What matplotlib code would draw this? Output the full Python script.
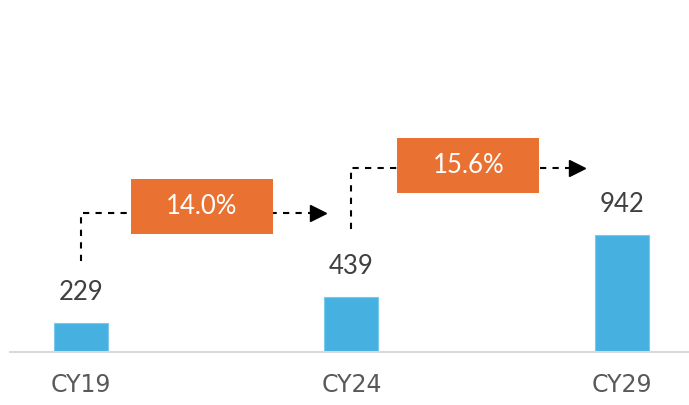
import matplotlib.pyplot as plt
from matplotlib.patches import Rectangle

years = ['CY19', 'CY24', 'CY29']
values = [229, 439, 942]
cagr_labels = ['14.0%', '15.6%']

# layout of the growth arrows (data units)
arrow_start = [0, 1]
arrow_end = [0.878, 1.835]
arrow_low = [731, 988]
arrow_high = [1116, 1478]
box_cx = [0.447, 1.432]
box_cy = [1165, 1494]
box_w, box_h = 0.525, 442

blue = '#46B1E1'
orange = '#E97132'

fig = plt.figure(figsize=(6.89, 4.05), dpi=100)
ax = fig.add_axes([10 / 689, 53 / 405, 679 / 689, 352 / 405])

x = list(range(len(years)))
ax.bar(x, values, width=0.2, color=blue, edgecolor='#7CC8EC', linewidth=0.8, zorder=2)

for xi, v in zip(x, values):
    ax.annotate(str(v), xy=(xi, v), xytext=(0, 13), textcoords='offset points',
                ha='center', va='bottom', fontsize=18.5, color='#404040', family='Lato')

for i in range(len(cagr_labels)):
    x0 = arrow_start[i]
    ax.plot([x0, x0, arrow_end[i]], [arrow_low[i], arrow_high[i], arrow_high[i]],
            color='black', lw=1.5, ls=(0, (3, 3)), zorder=3)
    ax.plot(arrow_end[i], arrow_high[i], marker='>', ms=11, color='black', zorder=3)
    ax.add_patch(Rectangle((box_cx[i] - box_w / 2, box_cy[i] - box_h / 2), box_w, box_h,
                           facecolor=orange, edgecolor='none', zorder=4))
    ax.text(box_cx[i], box_cy[i], cagr_labels[i], ha='center', va='center',
            fontsize=18.5, color='white', family='Lato', zorder=5)

ax.set_xlim(-0.262, 2.248)
ax.set_ylim(0, 2827)
ax.set_xticks(x)
ax.set_xticklabels(years, fontsize=17, color='#595959', family='Liberation Sans Narrow')
ax.tick_params(axis='x', length=0, pad=15)
ax.set_yticks([])
for s in ['top', 'left', 'right']:
    ax.spines[s].set_visible(False)
ax.spines['bottom'].set_color('#D9D9D9')
ax.spines['bottom'].set_linewidth(1.5)

plt.savefig('out.png', dpi=100)
